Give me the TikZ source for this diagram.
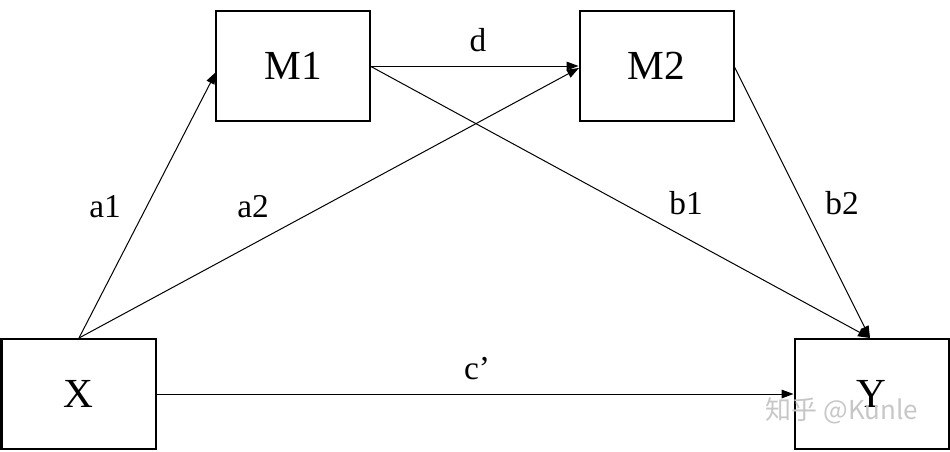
\documentclass[tikz,border=0pt]{standalone}
\usepackage{fontspec}
\setmainfont{Liberation Serif}
\newfontfamily\cjkwm{Noto Sans CJK SC}
\usetikzlibrary{arrows.meta}
\begin{document}
\begin{tikzpicture}[x=0.75pt,y=-0.75pt,
  varbox/.style={draw, line width=1.5pt, rectangle, minimum width=115.5pt, minimum height=82.5pt, inner sep=0pt, font=\fontsize{31}{35}\selectfont},
  path/.style={line width=0.75pt, -{Triangle[length=9pt,width=6.5pt]}},
  lbl/.style={font=\fontsize{25}{28}\selectfont, inner sep=0pt}]
\useasboundingbox (0,0) rectangle (950,451);
\node[varbox] (M1) at (293,66) {M1};
\node[varbox] (M2) at (656.5,66) {M2};
\node[varbox] (X) at (78.5,394) {X};
\node[varbox] (Y) at (871.5,394) {Y};
\coordinate (xo) at (79,338);
\coordinate (m1in) at (216,72);
\coordinate (m2in) at (579,68);
\coordinate (m1out) at (370,66);
\coordinate (m2out) at (734,66);
\coordinate (yin) at (870,338);
\draw[path] (xo) -- (m1in);
\draw[path] (xo) -- (m2in);
\draw[path] (m1out) -- (M2.west);
\draw[path] (m1out) -- (yin);
\draw[path] (m2out) -- (yin);
\draw[path] (X.east) -- (Y.west);
\node[lbl] (la1) at (105,207) {a1};
\node[lbl] (la2) at (253,207) {a2};
\node[lbl] (lb1) at (686,203) {b1};
\node[lbl] (lb2) at (842,203) {b2};
\node[lbl] (ld) at (478,40) {d};
\node[lbl] (lc) at (477,369) {c’};
\node[font=\cjkwm\fontsize{19.5}{22}\selectfont, text=black!22, inner sep=0pt] (wm) at (842,411) {知乎 @Kunle};
\end{tikzpicture}
\end{document}
